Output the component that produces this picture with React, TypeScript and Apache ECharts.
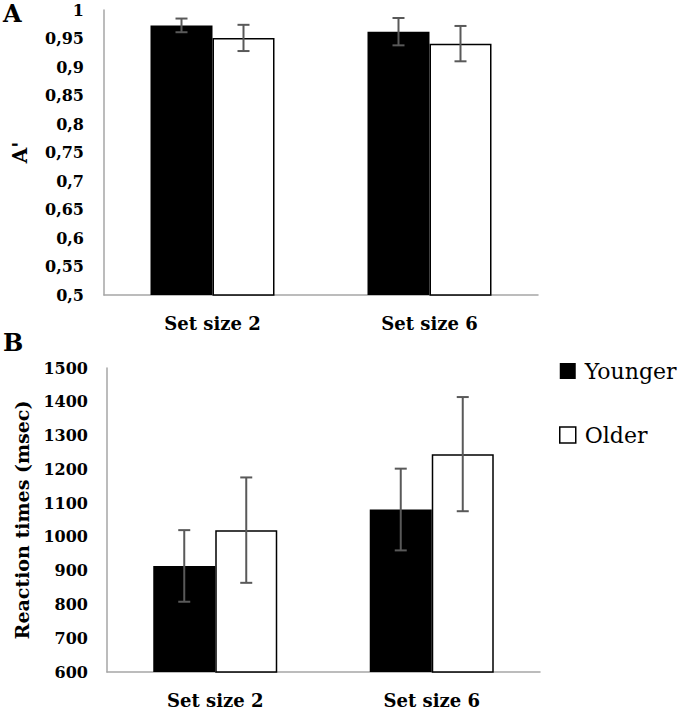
import React, { useEffect, useRef } from "react";
import * as echarts from "echarts";

const categories = ["Set size 2", "Set size 6"];
const seriesNames = ["Younger", "Older"];

// Panel A: A' values and error (±)
const aYounger = [0.973, 0.962];
const aYoungerErr = [0.012, 0.024];
const aOlder = [0.951, 0.941];
const aOlderErr = [0.023, 0.031];
const aTicks = { min: 0.5, max: 1, interval: 0.05 };

// Panel B: reaction times (msec) and error (±)
const rtYounger = [914, 1081];
const rtYoungerErr = [106, 121];
const rtOlder = [1020, 1245];
const rtOlderErr = [156, 169];
const rtTicks = { min: 600, max: 1500, interval: 100 };

const FONT = "DejaVu Serif";
const AXIS_GRAY = "#a6a6a6";
const ERR_COLOR = "#595959";
const BAR_W = 62;

function errData(vals: number[], errs: number[]) {
  return vals.map((v, i) => [i, v - errs[i], v + errs[i]]);
}

function errSeries(name: string, grid: number, data: number[][], offset: number) {
  return {
    type: "custom",
    name,
    xAxisIndex: grid,
    yAxisIndex: grid,
    z: 5,
    data,
    renderItem: (params: any, api: any) => {
      const cat = api.value(0);
      const lo = api.coord([cat, api.value(1)]);
      const hi = api.coord([cat, api.value(2)]);
      const x = lo[0] + offset;
      const cap = 6;
      const st = { stroke: ERR_COLOR, lineWidth: 2 };
      return {
        type: "group",
        children: [
          { type: "line", shape: { x1: x, y1: hi[1], x2: x, y2: lo[1] }, style: st },
          { type: "line", shape: { x1: x - cap, y1: hi[1], x2: x + cap, y2: hi[1] }, style: st },
          { type: "line", shape: { x1: x - cap, y1: lo[1], x2: x + cap, y2: lo[1] }, style: st },
        ],
      };
    },
  };
}

function fmtComma(v: number) {
  return String(Math.round(v * 100) / 100).replace(".", ",");
}

export default function App() {
  const ref = useRef<HTMLDivElement>(null);
  useEffect(() => {
    if (!ref.current) return;
    const chart = echarts.init(ref.current, undefined, { renderer: "svg" });
    const xAxisCommon = {
      type: "category",
      data: categories,
      axisTick: { show: false },
      axisLine: { lineStyle: { color: AXIS_GRAY, width: 1.5 } },
      axisLabel: { color: "#000", fontFamily: FONT, fontWeight: "bold", fontSize: 18, margin: 19 },
    };
    const yCommon = {
      type: "value",
      nameLocation: "middle",
      nameRotate: 90,
      nameTextStyle: { color: "#000", fontFamily: FONT, fontWeight: "bold", fontSize: 19 },
      splitLine: { show: false },
      axisTick: { show: false },
      axisLine: { show: true, lineStyle: { color: AXIS_GRAY, width: 1.5 } },
    };
    const option: any = {
      animation: false,
      backgroundColor: "#fff",
      textStyle: { fontFamily: FONT },
      grid: [
        { left: 104, width: 434, top: 10, height: 285, containLabel: false, outerBoundsMode: "none" },
        { left: 107, width: 433, top: 368, height: 304, containLabel: false, outerBoundsMode: "none" },
      ],
      xAxis: [
        { ...xAxisCommon, gridIndex: 0 },
        { ...xAxisCommon, gridIndex: 1 },
      ],
      yAxis: [
        {
          ...yCommon,
          gridIndex: 0,
          min: aTicks.min,
          max: aTicks.max,
          interval: aTicks.interval,
          name: "A'",
          nameGap: 74,
          nameTextStyle: { color: "#000", fontFamily: FONT, fontWeight: "bold", fontSize: 20 },
          axisLabel: {
            color: "#000",
            fontFamily: FONT,
            fontWeight: "bold",
            fontSize: 16,
            margin: 20,
            formatter: (v: number) => fmtComma(v),
          },
        },
        {
          ...yCommon,
          gridIndex: 1,
          min: rtTicks.min,
          max: rtTicks.max,
          interval: rtTicks.interval,
          name: "Reaction times (msec)",
          nameGap: 76,
          axisLabel: {
            color: "#000",
            fontFamily: FONT,
            fontWeight: "bold",
            fontSize: 16,
            margin: 19,
            formatter: (v: number) => String(v),
          },
        },
      ],
      legend: {
        data: [
          { name: seriesNames[0], itemStyle: { color: "#000", borderColor: "#000", borderWidth: 0 } },
          { name: seriesNames[1], itemStyle: { color: "#fff", borderColor: "#000", borderWidth: 1.5 } },
        ],
        orient: "vertical",
        left: 554,
        top: 355,
        icon: "rect",
        itemWidth: 16,
        itemHeight: 16,
        itemGap: 42,
        selectedMode: false,
        textStyle: { color: "#000", fontFamily: FONT, fontSize: 22, padding: [0, 0, 0, 4] },
      },
      graphic: [
        { type: "text", left: 3, top: 1, style: { text: "A", fontFamily: FONT, fontWeight: "bold", fontSize: 24, fill: "#000" } },
        { type: "text", left: 3, top: 330, style: { text: "B", fontFamily: FONT, fontWeight: "bold", fontSize: 24, fill: "#000" } },
      ],
      series: [
        { type: "bar", name: seriesNames[0], xAxisIndex: 0, yAxisIndex: 0, data: aYounger, barWidth: BAR_W, barGap: "0%", itemStyle: { color: "#000" } },
        { type: "bar", name: seriesNames[1], xAxisIndex: 0, yAxisIndex: 0, data: aOlder, barWidth: BAR_W, barGap: "0%", itemStyle: { color: "#fff", borderColor: "#000", borderWidth: 1.5 } },
        { type: "bar", name: seriesNames[0], xAxisIndex: 1, yAxisIndex: 1, data: rtYounger, barWidth: BAR_W, barGap: "0%", itemStyle: { color: "#000" } },
        { type: "bar", name: seriesNames[1], xAxisIndex: 1, yAxisIndex: 1, data: rtOlder, barWidth: BAR_W, barGap: "0%", itemStyle: { color: "#fff", borderColor: "#000", borderWidth: 1.5 } },
        errSeries("errAY", 0, errData(aYounger, aYoungerErr), -BAR_W / 2),
        errSeries("errAO", 0, errData(aOlder, aOlderErr), BAR_W / 2),
        errSeries("errBY", 1, errData(rtYounger, rtYoungerErr), -BAR_W / 2),
        errSeries("errBO", 1, errData(rtOlder, rtOlderErr), BAR_W / 2),
      ],
    };
    chart.setOption(option);
    return () => chart.dispose();
  }, []);
  return (
    <div
      ref={ref}
      style={{ position: "absolute", left: 0, top: 0, width: 685, height: 711, background: "#fff" }}
    />
  );
}
